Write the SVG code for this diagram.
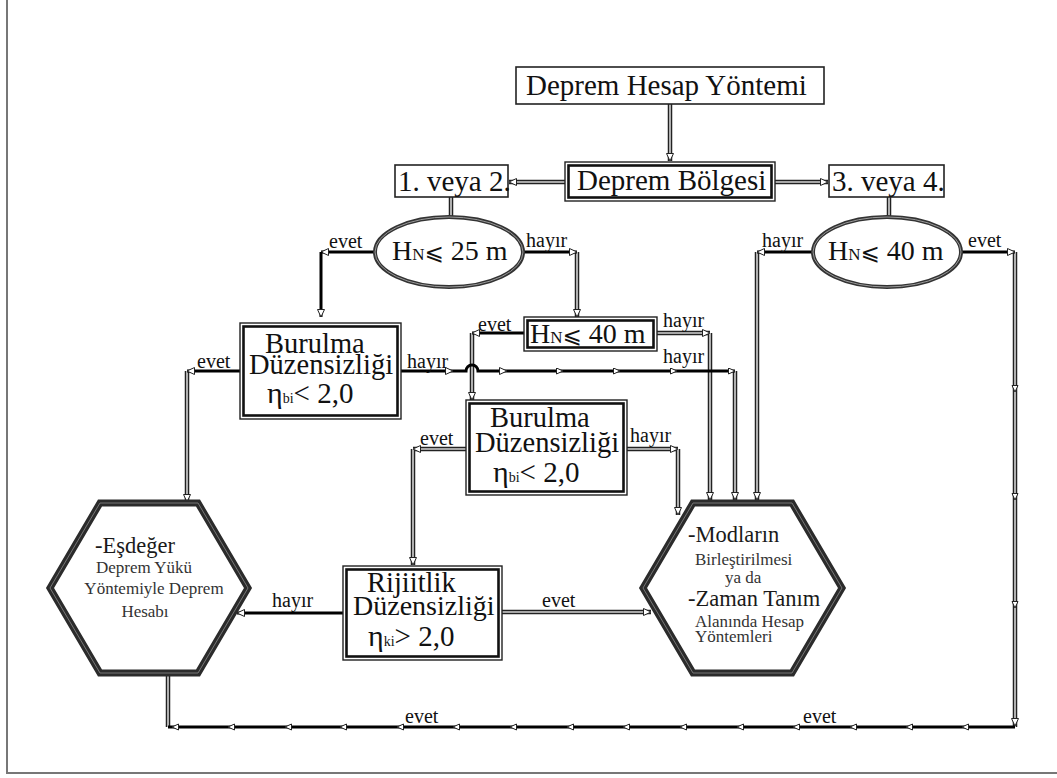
<svg xmlns="http://www.w3.org/2000/svg" width="1057" height="778" viewBox="0 0 1057 778">
<defs>
<style>
text{font-family:"Liberation Serif","Times New Roman",serif;fill:#111}
.lbl{font-size:20px}
.big{font-size:29px}
.mid{font-size:28.5px}
.hx1{font-size:22.5px;fill:#1a1a1a}
.hx2{font-size:17px;fill:#333}
.sym{font-family:"DejaVu Serif","DejaVu Sans",serif}
.o{fill:none;stroke:#222;stroke-width:4.5}
.i{fill:none;stroke:#d4d4d4;stroke-width:1.6}
.k{fill:none;stroke:none;marker-end:url(#a)}
.t{fill:none;stroke:#000;stroke-width:3;marker-end:url(#a)}
.tn{fill:none;stroke:#000;stroke-width:3}
.tm{fill:none;stroke:#000;stroke-width:3;marker-mid:url(#s);marker-end:url(#s)}
.km{fill:none;stroke:none;marker-mid:url(#s);marker-end:url(#a)}
.box{fill:#fff;stroke:#222;stroke-width:1.6}
.bo{fill:#fff;stroke:#222;stroke-width:1.4}
.bi{fill:none;stroke:#111;stroke-width:2.6}
.hex{fill:#fff;stroke:#2b2b2b;stroke-width:7;stroke-linejoin:miter}
.hexi{fill:none;stroke:#777;stroke-width:1}
.ell{fill:#fff;stroke:#333;stroke-width:4}
.elli{fill:none;stroke:#999;stroke-width:1}
</style>
<marker id="a" markerWidth="10" markerHeight="10" refX="8" refY="4" orient="auto" markerUnits="userSpaceOnUse"><path d="M0.5,0.5 L8,4 L0.5,7.5 z" fill="#fff" stroke="#222" stroke-width="1"/></marker>
<marker id="s" markerWidth="9" markerHeight="9" refX="7" refY="3.5" orient="auto" markerUnits="userSpaceOnUse"><path d="M0.5,0.5 L7,3.5 L0.5,6.5 z" fill="#fff" stroke="#222" stroke-width="1"/></marker>
</defs>
<rect width="1057" height="778" fill="#fff"/>
<path d="M7,0 V773 H1057" fill="none" stroke="#777" stroke-width="2"/>

<g id="connectors">
<!-- double lines -->
<path class="o" d="M670,104 V161 M565,182 H509 M775,182 H828 M451,197 V228 M889,197 V228 M577,252 V317 M757,252 V500 M1015,252 V727 M187,371 V502 M735,371 V500 M472,333 V400 M657,333 H710 M710,333 V500 M466,449 H413 M413,449 V565 M627,449 H678 M678,449 V515 M502,612 H651 M168,727 V673"/>
<path class="i" d="M670,104 V161 M565,182 H509 M775,182 H828 M451,197 V228 M889,197 V228 M577,252 V317 M757,252 V500 M1015,252 V727 M187,371 V502 M735,371 V500 M472,333 V400 M657,333 H710 M710,333 V500 M466,449 H413 M413,449 V565 M627,449 H678 M678,449 V515 M502,612 H651 M168,727 V673"/>
<path class="k" d="M670,104 V161"/>
<path class="k" d="M565,182 H509"/>
<path class="k" d="M775,182 H828"/>
<path class="k" d="M451,197 V228"/>
<path class="k" d="M889,197 V228"/>
<path class="k" d="M577,252 V317"/>
<path class="k" d="M757,252 V500"/>
<path class="km" d="M1015,252 V392 V500 V608 V726"/>
<path class="k" d="M187,371 V502"/>
<path class="k" d="M735,371 V500"/>
<path class="k" d="M472,333 V400"/>
<path class="k" d="M657,333 H710"/>
<path class="k" d="M710,333 V500"/>
<path class="k" d="M466,449 H413"/>
<path class="k" d="M413,449 V565"/>
<path class="k" d="M627,449 H678"/>
<path class="k" d="M678,449 V515"/>
<path class="k" d="M502,612 H651"/>
<!-- thick black lines -->
<path class="t" d="M375,252 H321"/>
<path class="t" d="M321,252 V317"/>
<path class="t" d="M523,252 H577"/>
<path class="t" d="M812,252 H757"/>
<path class="t" d="M961,252 H1015"/>
<path class="t" d="M240,371 H187"/>
<path class="t" d="M401,371 H453"/>
<path class="t" d="M453,371 H466 A6,6 0 0 1 478,371 H507"/>
<path class="tm" d="M507,371 H563 H620 H677 H735"/>
<path class="t" d="M524,333 H472"/>
<path class="t" d="M343,613 H237"/>
<path class="tm" d="M1015,727 H962 H906 H850 H793 H737 H680 H623 H567 H510 H453 H397 H340 H285 H228 H172"/>
<path class="tn" d="M172,727 H168"/>
<!-- labels -->
<text class="lbl" x="329" y="248">evet</text>
<text class="lbl" x="526" y="247">hayır</text>
<text class="lbl" x="762" y="247">hayır</text>
<text class="lbl" x="968" y="247">evet</text>
<text class="lbl" x="197" y="368">evet</text>
<text class="lbl" x="407" y="368">hayır</text>
<text class="lbl" x="478" y="331">evet</text>
<text class="lbl" x="663" y="327">hayır</text>
<text class="lbl" x="663" y="363">hayır</text>
<text class="lbl" x="420" y="445">evet</text>
<text class="lbl" x="630" y="442">hayır</text>
<text class="lbl" x="272" y="607">hayır</text>
<text class="lbl" x="542" y="607">evet</text>
<text class="lbl" x="405" y="723">evet</text>
<text class="lbl" x="803" y="723">evet</text>
</g>

<g id="n-yontem">
<rect class="box" x="516" y="67" width="308" height="37"/>
<text class="big" x="526" y="95">Deprem Hesap Yöntemi</text>
</g>
<g id="n-bolge">
<rect class="bo" x="565" y="162" width="210" height="39"/>
<rect class="bi" x="568.5" y="165.5" width="203" height="32"/>
<text class="big" x="577" y="190">Deprem Bölgesi</text>
</g>
<g id="n-12">
<rect class="box" x="395" y="165" width="113" height="32" stroke-width="2"/>
<text class="big" x="398" y="191">1. veya 2.</text>
</g>
<g id="n-34">
<rect class="box" x="829" y="165" width="115" height="32" stroke-width="2"/>
<text class="big" x="832" y="191">3. veya 4.</text>
</g>
<g id="n-h25">
<ellipse class="ell" cx="449" cy="252" rx="74" ry="35"/>
<ellipse class="elli" cx="449" cy="252" rx="74" ry="35"/>
<text x="392" y="260"><tspan font-size="28">H</tspan><tspan font-size="17">N</tspan><tspan class="sym" font-size="23">⩽</tspan><tspan font-size="28"> 25 m</tspan></text>
</g>
<g id="n-h40b">
<ellipse class="ell" cx="887" cy="252" rx="74" ry="35"/>
<ellipse class="elli" cx="887" cy="252" rx="74" ry="35"/>
<text x="828" y="260"><tspan font-size="28">H</tspan><tspan font-size="17">N</tspan><tspan class="sym" font-size="23">⩽</tspan><tspan font-size="28"> 40 m</tspan></text>
</g>
<g id="n-burulma1">
<rect class="bo" x="240" y="323" width="161" height="96"/>
<rect class="bi" x="243.5" y="326.5" width="154" height="89"/>
<text class="mid" x="265" y="353">Burulma</text>
<text class="mid" x="249" y="374">Düzensizliği</text>
<text x="267" y="403"><tspan font-size="30">η</tspan><tspan font-size="14">bi</tspan><tspan font-size="29">&lt; 2,0</tspan></text>
</g>
<g id="n-h40a">
<rect class="bo" x="524" y="317" width="133" height="34"/>
<rect class="bi" x="527.5" y="320.5" width="126" height="27"/>
<text x="530" y="343"><tspan font-size="28">H</tspan><tspan font-size="17">N</tspan><tspan class="sym" font-size="23">⩽</tspan><tspan font-size="28"> 40 m</tspan></text>
</g>
<g id="n-burulma2">
<rect class="bo" x="466" y="400" width="161" height="95"/>
<rect class="bi" x="469.5" y="403.5" width="154" height="88"/>
<text class="mid" x="490" y="427">Burulma</text>
<text class="mid" x="475" y="452">Düzensizliği</text>
<text x="493" y="482"><tspan font-size="30">η</tspan><tspan font-size="14">bi</tspan><tspan font-size="29">&lt; 2,0</tspan></text>
</g>
<g id="n-rijitlik">
<rect class="bo" x="343" y="566" width="159" height="94"/>
<rect class="bi" x="346.5" y="569.5" width="152" height="87"/>
<text class="mid" x="367" y="592">Rijiitlik</text>
<text x="353" y="615" font-size="28">Düzensizliği</text>
<text x="368" y="646"><tspan font-size="30">η</tspan><tspan font-size="14">ki</tspan><tspan font-size="29">&gt; 2,0</tspan></text>
</g>
<g id="n-esdeger">
<polygon class="hex" points="100,503 198,503 248,588 198,673 100,673 50,588"/>
<polygon class="hexi" points="100,503 198,503 248,588 198,673 100,673 50,588"/>
<text class="hx1" x="95" y="553">-Eşdeğer</text>
<text class="hx2" x="144" y="573" text-anchor="middle">Deprem Yükü</text>
<text class="hx2" x="154" y="594" text-anchor="middle">Yöntemiyle Deprem</text>
<text class="hx2" x="145" y="617" text-anchor="middle">Hesabı</text>
</g>
<g id="n-modlar">
<polygon class="hex" points="693,503 792,503 842,588 792,673 693,673 643,588"/>
<polygon class="hexi" points="693,503 792,503 842,588 792,673 693,673 643,588"/>
<text class="hx1" x="688" y="542">-Modların</text>
<text class="hx2" x="695" y="565">Birleştirilmesi</text>
<text class="hx2" x="725" y="583">ya da</text>
<text class="hx1" x="688" y="606">-Zaman Tanım</text>
<text class="hx2" x="695" y="627">Alanında Hesap</text>
<text class="hx2" x="695" y="642">Yöntemleri</text>
</g>
</svg>
